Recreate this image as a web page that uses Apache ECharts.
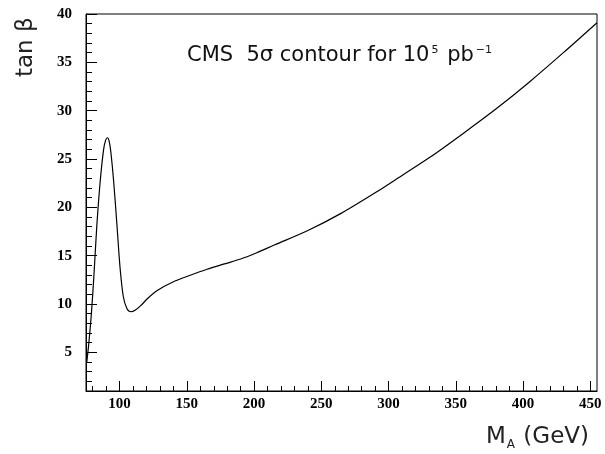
<!DOCTYPE html>
<html>
<head>
<meta charset="utf-8">
<script src="https://cdn.jsdelivr.net/npm/echarts@6/dist/echarts.min.js"></script>
</head>
<body style="margin:0">
<div id="container" style="width:605px;height:454px"></div>
<script>
// M_A (GeV) and tan beta
const massA = [75.5, 77, 79, 81, 83, 85.5, 88, 89.5, 91, 92.3, 93.5, 95.5, 98, 100.3, 102.7,
  105.5, 108.5, 111.5, 115.5, 121, 128, 140, 152, 165, 178, 190, 202, 215, 240, 265, 290, 310,
  331, 356, 381, 405, 430, 455];
const tanBeta = [3.9, 5.8, 9.0, 13.2, 18.0, 22.6, 25.9, 26.9, 27.2, 26.8, 25.7, 22.8, 18.2, 13.8, 10.8,
  9.5, 9.2, 9.35, 9.8, 10.6, 11.4, 12.3, 12.95, 13.6, 14.15, 14.65, 15.3, 16.1, 17.6, 19.4, 21.5, 23.3,
  25.2, 27.7, 30.3, 33.0, 36.0, 39.1];

const xMajorTicks = [100, 150, 200, 250, 300, 350, 400, 450];
const yMajorTicks = [5, 10, 15, 20, 25, 30, 35, 40];

const xMinorTicks = [];
for (let v = 80; v <= 450; v += 10) {
  if (v % 50 !== 0) xMinorTicks.push(v);
}
const yMinorTicks = [];
for (let v = 2; v <= 39; v++) {
  if (v % 5 !== 0) yMinorTicks.push(v);
}

const myChart = echarts.init(document.getElementById('container'));

const labelFont = {
  fontFamily: 'Liberation Serif',
  fontWeight: 'bold',
  fontSize: 15,
  color: '#000'
};

option = {
  animation: false,
  backgroundColor: '#fff',
  grid: {
    left: 86, top: 14, right: 8, bottom: 63,
    show: true,
    borderColor: '#000',
    borderWidth: 1
  },
  xAxis: [
    {
      type: 'value', min: 75, max: 455, position: 'bottom',
      splitLine: { show: false },
      axisLine: { lineStyle: { color: '#000' } },
      axisTick: { inside: true, length: 10, customValues: xMajorTicks, lineStyle: { color: '#000' } },
      axisLabel: Object.assign({ margin: 6, customValues: xMajorTicks }, labelFont)
    },
    {
      type: 'value', min: 75, max: 455, position: 'bottom',
      splitLine: { show: false },
      axisLine: { show: false },
      axisTick: { inside: true, length: 5, customValues: xMinorTicks, lineStyle: { color: '#000' } },
      axisLabel: { show: false, customValues: xMinorTicks }
    }
  ],
  yAxis: [
    {
      type: 'value', min: 1, max: 40, position: 'left',
      splitLine: { show: false },
      axisLine: { lineStyle: { color: '#000' } },
      axisTick: { inside: true, length: 11, customValues: yMajorTicks, lineStyle: { color: '#000' } },
      axisLabel: Object.assign({ margin: 14, customValues: yMajorTicks }, labelFont)
    },
    {
      type: 'value', min: 1, max: 40, position: 'left',
      splitLine: { show: false },
      axisLine: { show: false },
      axisTick: { inside: true, length: 6, customValues: yMinorTicks, lineStyle: { color: '#000' } },
      axisLabel: { show: false, customValues: yMinorTicks }
    }
  ],
  graphic: [
    {
      type: 'text',
      x: 15, y: 77,
      rotation: Math.PI / 2,
      style: {
        text: 'tan β',
        font: '23px "DejaVu Sans"',
        fill: '#222'
      }
    },
    {
      type: 'text',
      left: 486, top: 426,
      style: {
        text: '{m|M}{s|A}{m| (GeV)}',
        rich: {
          m: { font: '23px "DejaVu Sans"', fill: '#222', verticalAlign: 'bottom' },
          s: { font: '12px "DejaVu Sans"', fill: '#222', verticalAlign: 'bottom', padding: [0, 1, -2, 1] }
        }
      }
    },
    {
      type: 'text',
      left: 187, top: 45,
      style: {
        text: '{t|CMS  5σ contour for 10}{u|5}{t| pb}{u|−1}',
        rich: {
          t: { font: '21px "DejaVu Sans"', fill: '#111', verticalAlign: 'bottom' },
          u: { font: '11px "DejaVu Sans"', fill: '#111', verticalAlign: 'bottom', padding: [0, 2, 10, 2] }
        }
      }
    }
  ],
  series: [
    {
      type: 'line',
      xAxisIndex: 0,
      yAxisIndex: 0,
      showSymbol: false,
      smooth: 0.3,
      lineStyle: { color: '#000', width: 1.2 },
      data: massA.map((m, i) => [m, tanBeta[i]])
    }
  ]
};

myChart.setOption(option);
</script>
</body>
</html>
